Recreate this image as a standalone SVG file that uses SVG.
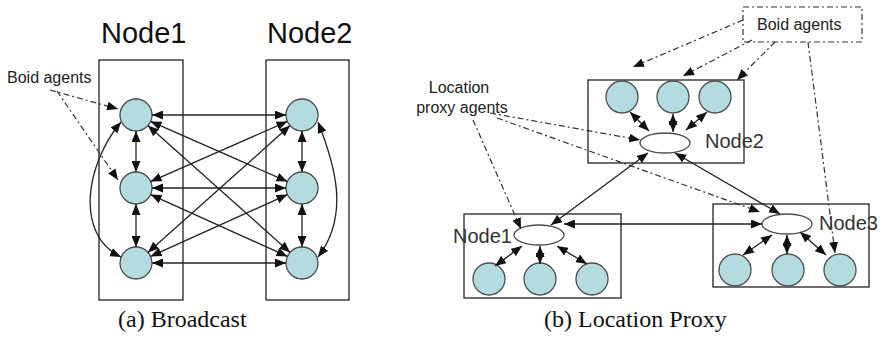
<svg xmlns="http://www.w3.org/2000/svg" width="884" height="337" viewBox="0 0 884 337">
<style>
.box{fill:none;stroke:#222;stroke-width:1.3}
.agent{fill:#b4dce0;stroke:#4d4d4d;stroke-width:1.3}
.proxy{fill:#fff;stroke:#4d4d4d;stroke-width:1.3}
.big{font-family:"Liberation Sans",Arial,sans-serif;font-size:29px;fill:#111}
.lbl{font-family:"Liberation Sans",Arial,sans-serif;font-size:16px;fill:#222}
.nl{font-family:"Liberation Sans",Arial,sans-serif;font-size:20px;fill:#333}
.cap{font-family:"Liberation Serif","Times New Roman",serif;font-size:24px;fill:#111}
.c{fill:none;stroke:#222;stroke-width:1.3;marker-start:url(#ah);marker-end:url(#ah)}
.d{fill:none;stroke:#333;stroke-width:1.2;stroke-dasharray:6 3 2 3;marker-end:url(#ah)}
.dbox{fill:none;stroke:#333;stroke-width:1.2;stroke-dasharray:6 3 2 3}
</style>
<defs>
<marker id="ah" markerUnits="userSpaceOnUse" markerWidth="11" markerHeight="9" refX="11" refY="4.5" orient="auto-start-reverse">
<path d="M0,0 L11,4.5 L0,9 z" fill="#111"/>
</marker>
</defs>
<rect width="884" height="337" fill="#fff"/>

<!-- (a) Broadcast -->
<g id="node1-a">
<rect class="box" x="99" y="60" width="84" height="240"/>
<text class="big" x="101" y="43">Node1</text>
</g>
<g id="node2-a">
<rect class="box" x="266" y="60" width="83" height="240"/>
<text class="big" x="267" y="43">Node2</text>
</g>
<g id="a-L1"><circle class="agent" cx="136" cy="115" r="16"/></g>
<g id="a-L2"><circle class="agent" cx="136" cy="188" r="16"/></g>
<g id="a-L3"><circle class="agent" cx="136" cy="263" r="16"/></g>
<g id="a-R1"><circle class="agent" cx="302" cy="115" r="16"/></g>
<g id="a-R2"><circle class="agent" cx="302" cy="188" r="16"/></g>
<g id="a-R3"><circle class="agent" cx="302" cy="263" r="16"/></g>
<g id="a-boid-label"><text class="lbl" x="7" y="83">Boid agents</text></g>

<g id="a-connectors">
<line class="c" x1="152" y1="115" x2="286" y2="115"/>
<line class="c" x1="152" y1="188" x2="286" y2="188"/>
<line class="c" x1="152" y1="263" x2="286" y2="263"/>
<line class="c" x1="136" y1="131" x2="136" y2="172"/>
<line class="c" x1="136" y1="204" x2="136" y2="247"/>
<line class="c" x1="302" y1="131" x2="302" y2="172"/>
<line class="c" x1="302" y1="204" x2="302" y2="247"/>
<line class="c" x1="150.6" y1="121.4" x2="287.4" y2="181.6"/>
<line class="c" x1="147.9" y1="125.6" x2="290.1" y2="252.4"/>
<line class="c" x1="150.6" y1="181.6" x2="287.4" y2="121.4"/>
<line class="c" x1="150.6" y1="194.6" x2="287.4" y2="256.4"/>
<line class="c" x1="147.9" y1="252.4" x2="290.1" y2="125.6"/>
<line class="c" x1="150.6" y1="256.4" x2="287.4" y2="194.6"/>
<path class="c" d="M121,122 C85,165 75,235 121,257"/>
<path class="c" d="M318,122 C335,165 350,215 318,257"/>
<line class="d" x1="50" y1="90" x2="118" y2="109"/>
<line class="d" x1="57" y1="91" x2="118" y2="180"/>
</g>

<!-- (b) Location Proxy -->
<g id="boid-label-b">
<rect class="dbox" x="743" y="7" width="119" height="35"/>
<text class="lbl" x="757" y="30">Boid agents</text>
</g>
<g id="proxy-label">
<text class="lbl" x="459" y="93" text-anchor="middle" font-size="16.5">Location</text>
<text class="lbl" x="462" y="113" text-anchor="middle" font-size="16.5">proxy agents</text>
</g>

<g id="node2-b">
<rect class="box" x="588" y="80" width="156" height="83"/>
<text class="nl" x="705" y="148">Node2</text>
<circle class="agent" cx="622" cy="97" r="16"/>
<circle class="agent" cx="673" cy="97" r="16"/>
<circle class="agent" cx="715" cy="97" r="16"/>
<ellipse class="proxy" cx="665" cy="143" rx="25" ry="10"/>
</g>
<g id="node1-b">
<rect class="box" x="464" y="214" width="157" height="84"/>
<text class="nl" x="453" y="243">Node1</text>
<ellipse class="proxy" cx="539" cy="235" rx="25" ry="10"/>
<circle class="agent" cx="489" cy="279" r="16"/>
<circle class="agent" cx="540" cy="279" r="16"/>
<circle class="agent" cx="592" cy="279" r="16"/>
</g>
<g id="node3-b">
<rect class="box" x="713" y="204" width="156" height="83"/>
<text class="nl" x="819" y="230">Node3</text>
<ellipse class="proxy" cx="787" cy="224" rx="25" ry="10"/>
<circle class="agent" cx="735" cy="270" r="16"/>
<circle class="agent" cx="788" cy="270" r="16"/>
<circle class="agent" cx="840" cy="270" r="16"/>
</g>

<g id="b-connectors">
<line class="c" x1="630" y1="112" x2="649" y2="131"/>
<line class="c" x1="673" y1="114" x2="673" y2="132"/>
<line class="c" x1="707" y1="112" x2="686" y2="130"/>
<line class="c" x1="495" y1="266" x2="522" y2="246"/>
<line class="c" x1="540" y1="246" x2="540" y2="264"/>
<line class="c" x1="557" y1="246" x2="587" y2="264"/>
<line class="c" x1="743" y1="255" x2="772" y2="235"/>
<line class="c" x1="787" y1="235" x2="787" y2="254"/>
<line class="c" x1="800" y1="232" x2="826" y2="255"/>
<line class="c" x1="648" y1="153" x2="551" y2="225"/>
<line class="c" x1="675" y1="153" x2="780" y2="214"/>
<line class="c" x1="564" y1="224" x2="762" y2="224"/>
<line class="d" x1="743" y1="20" x2="633" y2="67"/>
<line class="d" x1="752" y1="40" x2="683" y2="76"/>
<line class="d" x1="775" y1="42" x2="737" y2="80"/>
<line class="d" x1="808" y1="42" x2="835" y2="253"/>
<line class="d" x1="490" y1="113" x2="640" y2="140"/>
<line class="d" x1="497" y1="118" x2="760" y2="212"/>
<line class="d" x1="473" y1="120" x2="521" y2="229"/>
</g>

<g id="captions">
<text class="cap" x="118" y="327">(a) Broadcast</text>
<text class="cap" x="544" y="327">(b) Location Proxy</text>
</g>
</svg>
